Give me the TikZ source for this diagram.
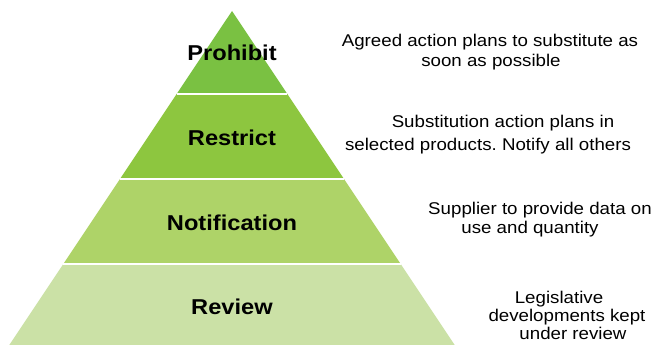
\documentclass[tikz,border=0pt]{standalone}
\usepackage{fontspec}
\setmainfont{Liberation Sans}
\usetikzlibrary{calc}
\definecolor{gA}{RGB}{122,193,66}
\definecolor{gB}{RGB}{141,198,63}
\definecolor{gC}{RGB}{174,211,104}
\definecolor{gD}{RGB}{203,225,166}
\newcommand\wide[1]{\scalebox{1.1}[1]{#1}}
\frenchspacing
\begin{document}
\begin{tikzpicture}[x=1pt,y=-1pt,
  level/.style={font=\fontsize{21.5}{24}\selectfont\bfseries, anchor=base, inner sep=0pt},
  note/.style={font=\fontsize{17}{20}\selectfont, anchor=base, inner sep=0pt},
  sep/.style={draw=white, line width=1.3pt}]
\useasboundingbox (0,0) rectangle (657,345);
\coordinate (A) at (232,11);
\coordinate (BL) at (9.3,345);
\coordinate (BR) at (454.7,345);
\coordinate (L1) at ($(A)!0.2485!(BL)$);
\coordinate (R1) at ($(A)!0.2485!(BR)$);
\coordinate (L2) at ($(A)!0.503!(BL)$);
\coordinate (R2) at ($(A)!0.503!(BR)$);
\coordinate (L3) at ($(A)!0.7575!(BL)$);
\coordinate (R3) at ($(A)!0.7575!(BR)$);
\fill[gA] (A) -- (R1) -- (L1) -- cycle;
\fill[gB] (L1) -- (R1) -- (R2) -- (L2) -- cycle;
\fill[gC] (L2) -- (R2) -- (R3) -- (L3) -- cycle;
\fill[gD] (L3) -- (R3) -- (BR) -- (BL) -- cycle;
\draw[sep] (L1) -- (R1);
\draw[sep] (L2) -- (R2);
\draw[sep] (L3) -- (R3);
\node[level] (prohibit) at (232,60.7) {\wide{Prohibit}};
\node[level] (restrict) at (232,145.7) {\wide{Restrict}};
\node[level] (notification) at (232,230.7) {\wide{Notification}};
\node[level] (review) at (232,314.7) {\wide{Review}};
\node[note] (t1a) at (490,47) {\wide{Agreed action plans to substitute as}};
\node[note] (t1b) at (491,66.5) {\wide{soon as possible}};
\node[note] (t2a) at (503,127.5) {\wide{Substitution action plans in}};
\node[note] (t2b) at (488,150) {\wide{selected products. Notify all others}};
\node[note] (t3a) at (540,214) {\wide{Supplier to provide data on}};
\node[note] (t3b) at (530,233.3) {\wide{use and quantity}};
\node[note] (t4a) at (559,303.5) {\wide{Legislative}};
\node[note] (t4b) at (567,321.5) {\wide{developments kept}};
\node[note] (t4c) at (573,339.5) {\wide{under review}};
\end{tikzpicture}
\end{document}
